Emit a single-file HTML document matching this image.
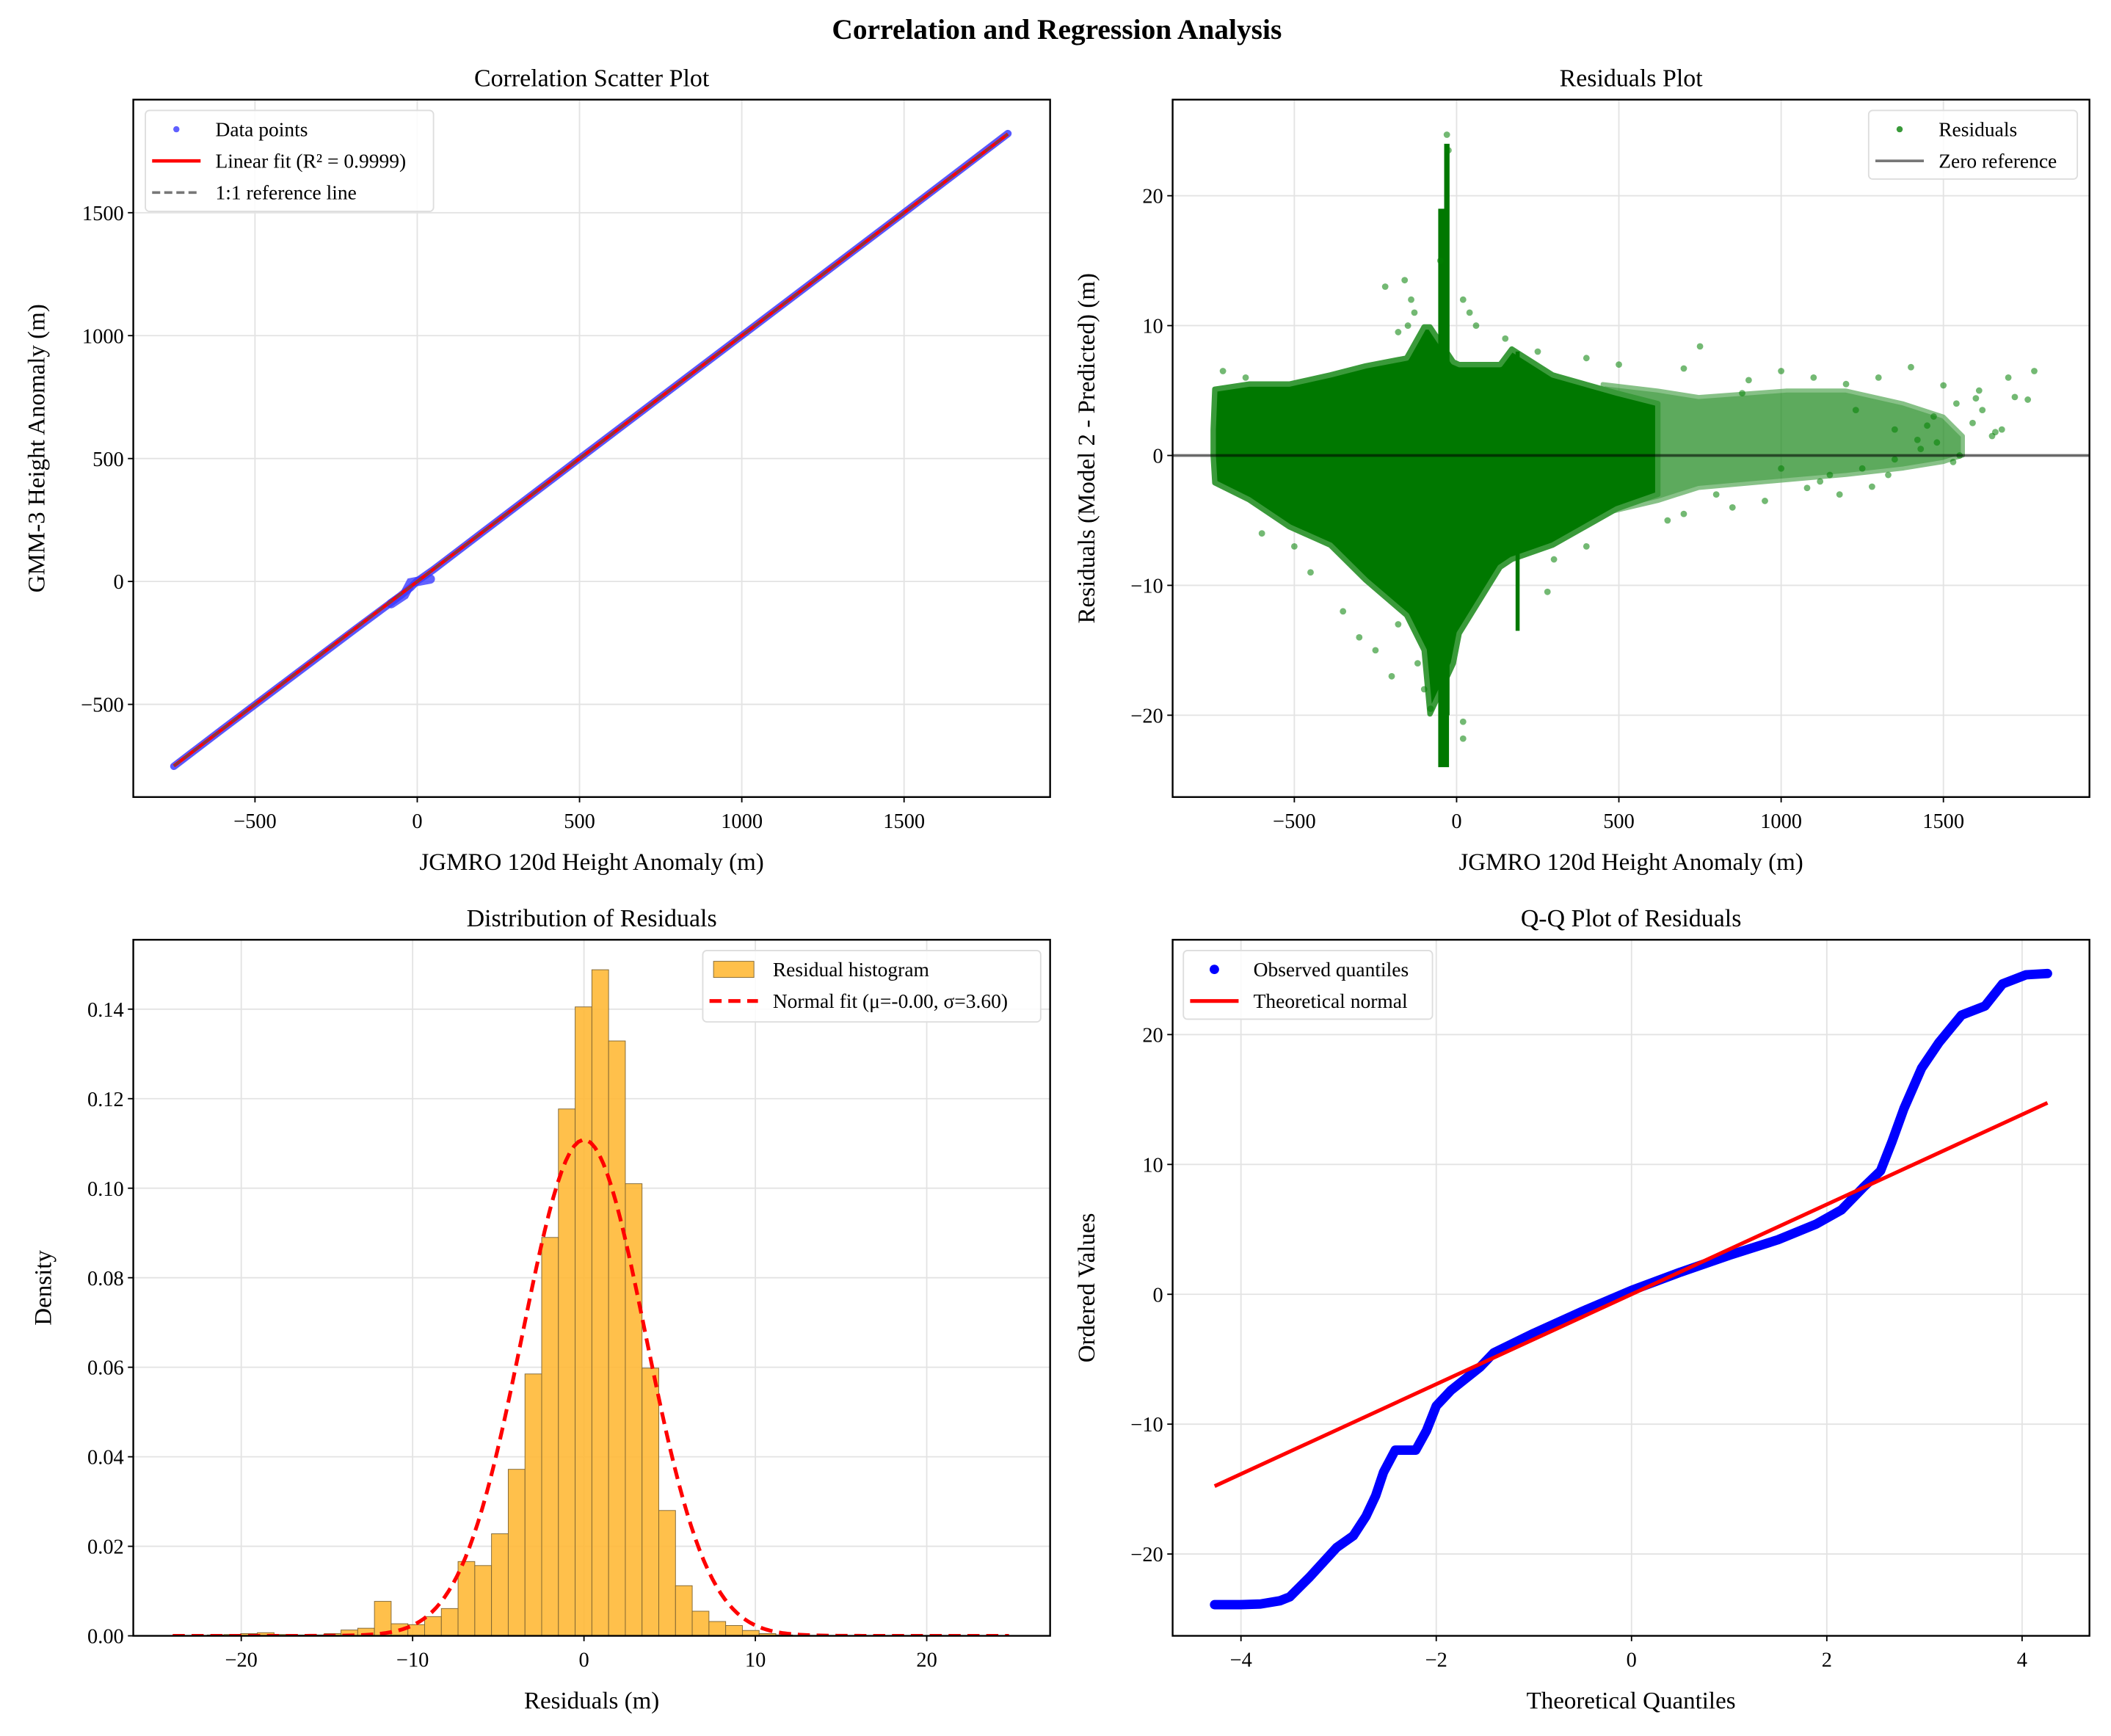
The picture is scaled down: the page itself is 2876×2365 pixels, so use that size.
<!DOCTYPE html>
<html><head><meta charset="utf-8"><style>
html,body{margin:0;padding:0;background:#fff;}
svg{display:block;font-family:"Liberation Serif",serif;}
</style></head><body>
<svg id="fig" width="2876" height="2365" viewBox="0 0 1568 1289.4" xmlns="http://www.w3.org/2000/svg">
<rect x="0" y="0" width="1568" height="1290" fill="#fff"/>
<text x="785" y="29" font-size="21.5" font-weight="bold" text-anchor="middle">Correlation and Regression Analysis</text>
</svg>
<script>
// ---------- data ----------
const scatterX = [-750,-600,-400,-200,-50,-20,0,50,200,500,1000,1500,1820];
const scatterY = [-752,-601,-402,-203,-56,-25,2,48,199,500,1000,1500,1822];
const fitSlope = 1.0002;
const fitIntercept = -0.3;
const refRange = [-750, 1820];

const envX = [-750,-745,-640,-515,-389,-280,-154,-100,-82,-10,8,134,170,296,494,620];
const envUpper = [2,5.1,5.5,5.5,6.2,6.9,7.5,9.9,9.9,7.2,7,7,8.2,6.2,4.8,4];
const envLower = [0,-2.1,-3.4,-5.5,-6.9,-9.6,-12.3,-15,-19.9,-16,-13.7,-8.6,-8,-6.9,-4.1,-3];
const sparseX = [450,620,746,1017,1200,1377,1500,1560];
const sparseUpper = [5.5,5,4.5,5,5,4,3,1.5];
const sparseLower = [-4.5,-3.5,-2.5,-1.9,-1.5,-1,-0.5,0];
const spikeX = [-40,-30,188];
const spikeLow = [-24,-20,-13.5];
const spikeHigh = [19,24,8];
const outX = [-720,-650,-600,-500,-450,-350,-300,-250,-200,-180,-120,-100,-80,20,20,-220,-150,-180,-50,-30,-25,20,40,60,150,250,400,500,700,750,900,1000,1100,1200,1300,1400,1500,1600,1700,1760,1780,1650,1550,1450,1350,1250,1150,1000,800,650,700,400,300,280,-130,-140,-160,1620,1680,1720,1590,1530,1480,1430,1330,1280,1180,1080,950,850,880,1120,1230,1350,1420,1470,1540,1610,1660];
const outY = [6.5,6,-6,-7,-9,-12,-14,-15,-17,-13,-16,-18,-19.5,-20.5,-21.8,13,10,9.5,15,24.7,23.5,12,11,10,9,8,7.5,7,6.7,8.4,5.8,6.5,6,5.5,6,6.8,5.4,4.4,6,4.3,6.5,1.5,0,2.3,-0.3,-1,-1.5,-1,-3,-5,-4.5,-7,-8,-10.5,11,12,13.5,3.5,2,4.5,2.5,-0.5,1,0.5,-1.5,-2.4,-3,-2.5,-3.5,-4,4.8,-2,3.5,2,1.2,3,4,5,1.8];

const binStart = -23.94;
const binWidth = 0.976;
const densities = [0.0001,0.0001,0.0002,0.0003,0.0005,0.0007,0.0003,0.0002,0.0002,0.0005,0.0013,0.0017,0.0077,0.0027,0.0025,0.0043,0.0061,0.0166,0.0157,0.0228,0.0372,0.0585,0.089,0.1177,0.1405,0.1488,0.1329,0.101,0.0598,0.028,0.0112,0.0055,0.0032,0.0023,0.0012,0.0005,0.0002,0.0001,0.0001,0.0001,0,0,0,0,0,0,0,0,0,0];
const normMu = 0.0;
const normSigma = 3.6;

const qqX = [-4.27,-4.0,-3.8,-3.6,-3.5,-3.3,-3.02,-2.85,-2.72,-2.62,-2.54,-2.42,-2.21,-2.1,-2.0,-1.85,-1.7,-1.55,-1.41,-1.0,-0.5,0,0.5,1.0,1.5,1.89,2.15,2.37,2.55,2.67,2.79,2.97,3.15,3.38,3.62,3.8,4.04,4.26];
const qqY = [-23.9,-23.9,-23.85,-23.6,-23.3,-21.8,-19.5,-18.6,-17.1,-15.5,-13.7,-12.0,-12.0,-10.5,-8.6,-7.4,-6.5,-5.6,-4.5,-3.0,-1.3,0.3,1.7,3.0,4.2,5.4,6.5,8.2,9.5,11.8,14.3,17.4,19.4,21.5,22.2,23.9,24.6,24.7];
const qqSlope = 3.46;
const qqIntercept = 0.0;

const ticks1 = [-500,0,500,1000,1500];
const ticks2y = [-20,-10,0,10,20];
const ticks3x = [-20,-10,0,10,20];
const ticks3y = [0,0.02,0.04,0.06,0.08,0.10,0.12,0.14];
const ticks4x = [-4,-2,0,2,4];

// ---------- helpers ----------
const NS = "http://www.w3.org/2000/svg";
const fig = document.getElementById('fig');
function mk(tag, attrs, parent){
  const e = document.createElementNS(NS, tag);
  for (const k in attrs) e.setAttribute(k, attrs[k]);
  (parent||fig).appendChild(e);
  return e;
}
function panel(p){
  p.sx = v => p.x0 + (v - p.xmin) / (p.xmax - p.xmin) * (p.x1 - p.x0);
  p.sy = v => p.y1 - (v - p.ymin) / (p.ymax - p.ymin) * (p.y1 - p.y0);
  const g = mk('g', {});
  
  
  p.g = g;
  const cid = 'clip-' + p.name;
  const cp = mk('clipPath', {id: cid}, g);
  mk('rect', {x:p.x0, y:p.y0, width:p.x1-p.x0, height:p.y1-p.y0}, cp);
  p.xt.forEach(v => {
    const l = mk('line', {x1:p.sx(v), x2:p.sx(v), y1:p.y0, y2:p.y1, stroke:'#e3e3e3', 'stroke-width':1}, g);
    
    
  });
  p.yt.forEach(v => {
    const l = mk('line', {x1:p.x0, x2:p.x1, y1:p.sy(v), y2:p.sy(v), stroke:'#e3e3e3', 'stroke-width':1}, g);
    
    
  });
  p.plot = mk('g', {'clip-path':'url(#'+cid+')'}, g);
  return p;
}
function finish(p){
  const g = p.g;
  const r = mk('rect', {x:p.x0, y:p.y0, width:p.x1-p.x0, height:p.y1-p.y0, fill:'none', stroke:'#000', 'stroke-width':1.3}, g);
  
  
  p.xt.forEach(v => {
    const x = p.sx(v);
    mk('line', {x1:x, x2:x, y1:p.y1, y2:p.y1+4, stroke:'#000', 'stroke-width':1}, g);
    const t = mk('text', {x:x, y:p.y1+23, 'font-size':15.5, 'text-anchor':'middle'}, g);
    t.textContent = p.xfmt ? p.xfmt(v) : String(v).replace('-', '\u2212');
    
    
  });
  p.yt.forEach(v => {
    const y = p.sy(v);
    mk('line', {x1:p.x0-4, x2:p.x0, y1:y, y2:y, stroke:'#000', 'stroke-width':1}, g);
    const t = mk('text', {x:p.x0-7, y:y+5.5, 'font-size':15.5, 'text-anchor':'end'}, g);
    t.textContent = p.yfmt ? p.yfmt(v) : String(v).replace('-', '\u2212');
    
    
  });
  const tt = mk('text', {x:(p.x0+p.x1)/2, y:p.y0-10, 'font-size':18.5, 'text-anchor':'middle'}, g);
  tt.textContent = p.title;
  
  
  const xl = mk('text', {x:(p.x0+p.x1)/2, y:p.y1+54, 'font-size':18, 'text-anchor':'middle'}, g);
  xl.textContent = p.xlabel;
  
  
  const cy = (p.y0+p.y1)/2;
  const yl = mk('text', {x:p.ylx, y:cy, 'font-size':18, 'text-anchor':'middle', transform:'rotate(-90 '+p.ylx+' '+cy+')'}, g);
  yl.textContent = p.ylabel;
  
  
}
function legend(p, x, y, w, h, entries){
  const g = mk('g', {}, p.g);
  
  
  mk('rect', {x:x, y:y, width:w, height:h, rx:3, fill:'#fff', 'fill-opacity':0.85, stroke:'#ddd', 'stroke-width':1}, g);
  entries.forEach((e, i) => {
    const yy = y + 14 + i * 23.5;
    e.draw(g, x + 23, yy);
    const t = mk('text', {x:x + 52, y:yy + 5, 'font-size':15}, g);
    t.textContent = e.label;
    
    
  });
}

// ---------- Panel 1 ----------
const p1 = panel({name:'scatter', x0:99, x1:780, y0:74, y1:592, xmin:-875, xmax:1950, ymin:-877, ymax:1960, xt:ticks1, yt:ticks1,
  title:'Correlation Scatter Plot', xlabel:'JGMRO 120d Height Anomaly (m)', ylabel:'GMM-3 Height Anomaly (m)', ylx:33});
const pts = scatterX.map((v,i)=>p1.sx(v)+','+p1.sy(scatterY[i])).join(' ');
const sc = mk('polyline', {points:pts, fill:'none', stroke:'#3b3bff', 'stroke-width':5.5, 'stroke-linecap':'round', 'stroke-linejoin':'round', opacity:0.85}, p1.plot);


const blob = mk('polyline', {points:[[-80,-90],[-40,-55],[-20,-5],[20,5],[40,10]].map(a=>p1.sx(a[0])+','+p1.sy(a[1])).join(' '), fill:'none', stroke:'#3b3bff', 'stroke-width':7, 'stroke-linecap':'round', opacity:0.8}, p1.plot);


const fl = mk('line', {x1:p1.sx(refRange[0]), y1:p1.sy(fitSlope*refRange[0]+fitIntercept), x2:p1.sx(refRange[1]), y2:p1.sy(fitSlope*refRange[1]+fitIntercept), stroke:'#ff0000', 'stroke-width':2.5}, p1.plot);


const rl = mk('line', {x1:p1.sx(refRange[0]), y1:p1.sy(refRange[0]), x2:p1.sx(refRange[1]), y2:p1.sy(refRange[1]), stroke:'#555', 'stroke-width':1.6, 'stroke-dasharray':'6,3', opacity:0.7}, p1.plot);


finish(p1);
legend(p1, 108, 82, 214, 75, [
  {label:'Data points', draw:(g,x,y)=>mk('circle',{cx:x,cy:y,r:2.3,fill:'#6060ff'},g)},
  {label:'Linear fit (R\u00b2 = 0.9999)', draw:(g,x,y)=>mk('line',{x1:x-18,x2:x+18,y1:y,y2:y,stroke:'#f00','stroke-width':2.5},g)},
  {label:'1:1 reference line', draw:(g,x,y)=>mk('line',{x1:x-18,x2:x+18,y1:y,y2:y,stroke:'#777','stroke-width':2,'stroke-dasharray':'6,3'},g)}
]);

// ---------- Panel 2 ----------
const p2 = panel({name:'residuals', x0:871, x1:1552, y0:74, y1:592, xmin:-875, xmax:1950, ymin:-26.3, ymax:27.4, xt:ticks1, yt:ticks2y,
  title:'Residuals Plot', xlabel:'JGMRO 120d Height Anomaly (m)', ylabel:'Residuals (Model 2 - Predicted) (m)', ylx:813});
const sp = sparseX.map((v,i)=>p2.sx(v)+','+p2.sy(sparseUpper[i])).concat(sparseX.map((v,i)=>p2.sx(v)+','+p2.sy(sparseLower[i])).reverse()).join(' ');
const spg = mk('polygon', {points:sp, fill:'#1f8a1f', opacity:0.72, stroke:'#5aaa5a', 'stroke-width':3, 'stroke-linejoin':'round'}, p2.plot);


const en = envX.map((v,i)=>p2.sx(v)+','+p2.sy(envUpper[i])).concat(envX.map((v,i)=>p2.sx(v)+','+p2.sy(envLower[i])).reverse()).join(' ');
const eng = mk('polygon', {points:en, fill:'#007800', stroke:'#3a9a3a', 'stroke-width':4, 'stroke-linejoin':'round'}, p2.plot);


spikeX.forEach((v,i)=>{
  const s = mk('line', {x1:p2.sx(v), x2:p2.sx(v), y1:p2.sy(spikeLow[i]), y2:p2.sy(spikeHigh[i]), stroke:'#007800', 'stroke-width':i===0?8:(i===1?4:3)}, p2.plot);
  
  
});
outX.forEach((v,i)=>{
  const c = mk('circle', {cx:p2.sx(v), cy:p2.sy(outY[i]), r:2.4, fill:'#008000', opacity:0.55}, p2.plot);
  
  
});
const zl = mk('line', {x1:p2.x0, x2:p2.x1, y1:p2.sy(0), y2:p2.sy(0), stroke:'#000', 'stroke-width':2, opacity:0.55}, p2.plot);


finish(p2);
legend(p2, 1388, 82, 155, 51, [
  {label:'Residuals', draw:(g,x,y)=>mk('circle',{cx:x,cy:y,r:2.3,fill:'#3a9a3a'},g)},
  {label:'Zero reference', draw:(g,x,y)=>mk('line',{x1:x-18,x2:x+18,y1:y,y2:y,stroke:'#777','stroke-width':2},g)}
]);

// ---------- Panel 3 ----------
const p3 = panel({name:'histogram', x0:99, x1:780, y0:698, y1:1215, xmin:-26.3, xmax:27.2, ymin:0, ymax:0.1555, xt:ticks3x, yt:ticks3y,
  title:'Distribution of Residuals', xlabel:'Residuals (m)', ylabel:'Density', ylx:38, yfmt:v=>v.toFixed(2)});
densities.forEach((d,i)=>{
  const a = binStart + i*binWidth;
  const b = mk('rect', {x:p3.sx(a), y:p3.sy(d), width:p3.sx(a+binWidth)-p3.sx(a), height:p3.sy(0)-p3.sy(d), fill:'#ffb732', 'fill-opacity':0.88, stroke:'#7d6433', 'stroke-width':0.5}, p3.plot);
  
  
});
const nPts = [];
for (let k=0;k<=200;k++){ const x = -24 + k*(48.8/200); const y = Math.exp(-0.5*Math.pow((x-normMu)/normSigma,2))/(normSigma*Math.sqrt(2*Math.PI)); nPts.push(p3.sx(x)+','+p3.sy(y)); }
const nc = mk('polyline', {points:nPts.join(' '), fill:'none', stroke:'#ff0000', 'stroke-width':2.8, 'stroke-dasharray':'9,5'}, p3.plot);


finish(p3);
legend(p3, 522, 706, 251, 53, [
  {label:'Residual histogram', draw:(g,x,y)=>mk('rect',{x:x-15,y:y-6,width:30,height:12,fill:'#ffb732','fill-opacity':0.88,stroke:'#7d6433','stroke-width':0.5},g)},
  {label:'Normal fit (\u03bc=-0.00, \u03c3=3.60)', draw:(g,x,y)=>mk('line',{x1:x-18,x2:x+18,y1:y,y2:y,stroke:'#f00','stroke-width':2.8,'stroke-dasharray':'9,5'},g)}
]);

// ---------- Panel 4 ----------
const p4 = panel({name:'qq-plot', x0:871, x1:1552, y0:698, y1:1215, xmin:-4.70, xmax:4.69, ymin:-26.3, ymax:27.3, xt:ticks4x, yt:ticks2y,
  title:'Q-Q Plot of Residuals', xlabel:'Theoretical Quantiles', ylabel:'Ordered Values', ylx:813});
const qp = qqX.map((v,i)=>p4.sx(v)+','+p4.sy(qqY[i])).join(' ');
const ql = mk('polyline', {points:qp, fill:'none', stroke:'#0000ff', 'stroke-width':7, 'stroke-linecap':'round', 'stroke-linejoin':'round'}, p4.plot);


const tl = mk('line', {x1:p4.sx(qqX[0]), y1:p4.sy(qqSlope*qqX[0]+qqIntercept), x2:p4.sx(qqX[qqX.length-1]), y2:p4.sy(qqSlope*qqX[qqX.length-1]+qqIntercept), stroke:'#ff0000', 'stroke-width':2.8}, p4.plot);


finish(p4);
legend(p4, 879, 706, 185, 51, [
  {label:'Observed quantiles', draw:(g,x,y)=>mk('circle',{cx:x,cy:y,r:3.5,fill:'#00f'},g)},
  {label:'Theoretical normal', draw:(g,x,y)=>mk('line',{x1:x-18,x2:x+18,y1:y,y2:y,stroke:'#f00','stroke-width':2.8},g)}
]);
</script>
</body></html>
